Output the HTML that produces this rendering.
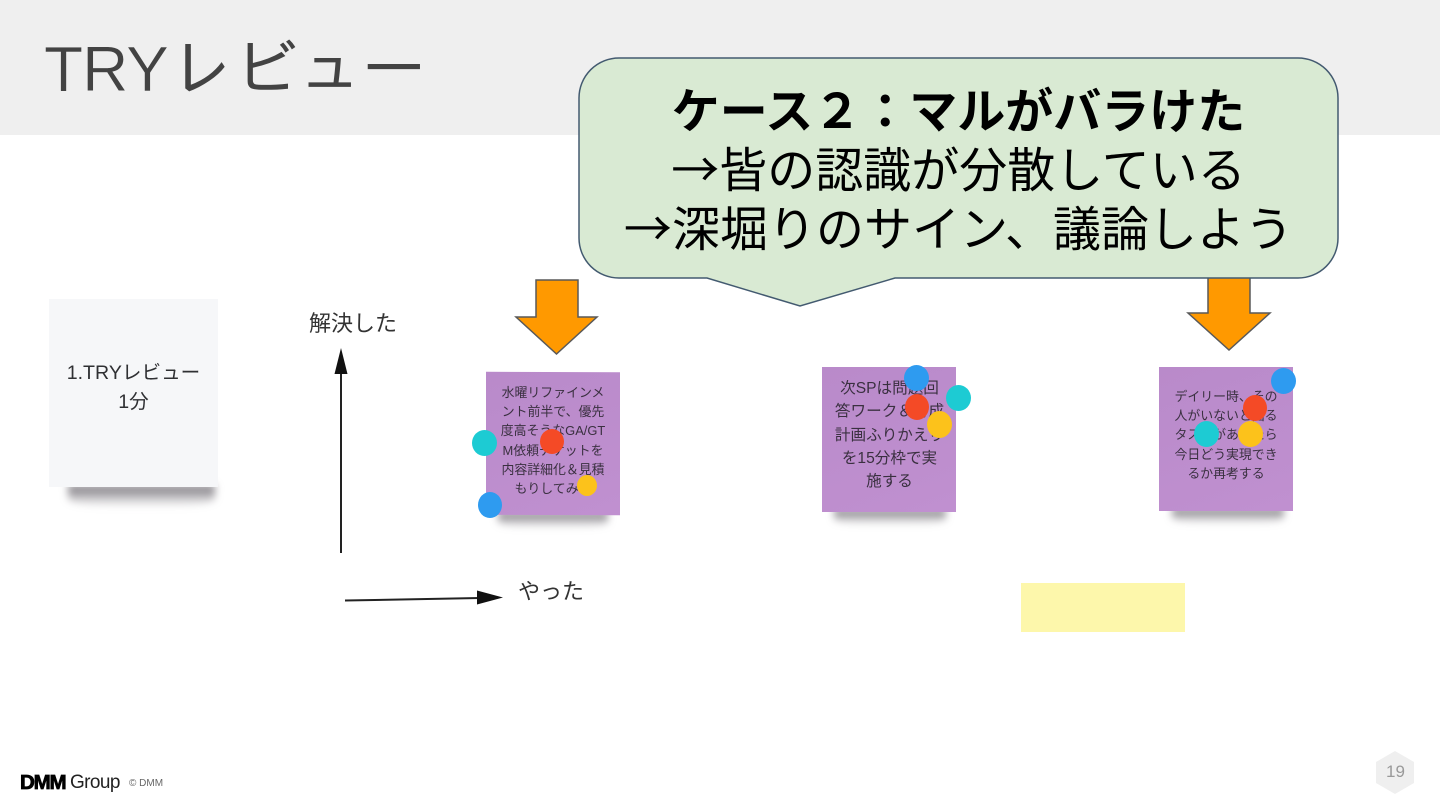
<!DOCTYPE html>
<html><head><meta charset="utf-8">
<style>
html,body{margin:0;padding:0;background:#fff}
#p{position:relative;width:1440px;height:810px;overflow:hidden;background:#fff;font-family:"Liberation Sans","Noto Sans CJK JP",sans-serif}
.a{position:absolute}
.t{position:absolute;white-space:nowrap;text-align:center}
.note{position:absolute;background:linear-gradient(160deg,#b98aca,#c090d0)}
.shadow{position:absolute;height:16px;background:linear-gradient(#77737a,#ffffff00);filter:blur(4px);border-radius:0 0 40% 40%}
.dot{position:absolute;border-radius:50%}
.nt{position:absolute;color:#3a3040;font-size:12.9px;line-height:19.2px;text-align:center;white-space:nowrap;filter:blur(.3px)}
.ar{font-family:'Noto Sans CJK JP',sans-serif;font-weight:normal}
</style></head><body><div id="p">
<div class="a" style="left:0;top:0;width:1440px;height:135px;background:#efefef"></div>
<div class="t" style="left:44px;top:27px;font-size:64px;line-height:80px;color:#434343;letter-spacing:-1px;-webkit-text-stroke:.6px #efefef;font-family:'Liberation Sans','IPAGothic',sans-serif">TRY<span style="margin-left:2px;letter-spacing:0;-webkit-text-stroke:0;font-family:'IPAGothic','Noto Sans CJK JP',sans-serif">レビュー</span></div>

<!-- white sticky -->
<div class="shadow" style="left:68px;top:485px;width:147px;height:22px"></div>
<div class="a" style="left:49px;top:299px;width:169px;height:188px;background:#f6f7f9"></div>
<div class="t" style="left:49px;top:359px;width:169px;font-size:19.6px;line-height:29px;color:#2f3033">1.TRYレビュー<br>1分</div>

<!-- axes -->
<div class="t" style="left:309px;top:309px;font-size:22px;line-height:30px;color:#333">解決した</div>
<div class="t" style="left:518px;top:577px;font-size:22px;line-height:30px;color:#333">やった</div>
<svg class="a" style="left:0;top:0" width="1440" height="810">
<line x1="341" y1="553" x2="341" y2="368" stroke="#222" stroke-width="2"/>
<polygon points="341,348 334.5,374 347.5,374" fill="#111"/>
<line x1="345" y1="600.5" x2="480" y2="598" stroke="#222" stroke-width="2"/>
<polygon points="503,597.5 477,590.5 477,604.5" fill="#111"/>
<polygon points="536,280 578,280 578,317 597,317 556.5,354 516,317 536,317" fill="#ff9900" stroke="#595959" stroke-width="1.5"/>
<polygon points="1208,276 1250,276 1250,313 1270,313 1229,350 1188,313 1208,313" fill="#ff9900" stroke="#595959" stroke-width="1.5"/>
</svg>

<!-- notes -->
<div class="shadow" style="left:498px;top:512px;width:110px"></div>
<div class="a note" style="left:486px;top:372px;width:134px;height:143px;transform:skewY(.2deg)"></div>
<div class="nt" style="left:486px;top:383px;width:134px">水曜リファインメ<br>ント前半で、優先<br>度高そうなGA/GT<br>M依頼チケットを<br>内容詳細化＆見積<br>もりしてみる</div>

<div class="shadow" style="left:834px;top:509px;width:112px"></div>
<div class="a note" style="left:822px;top:367px;width:134px;height:145px"></div>
<div class="nt" style="left:823px;top:377px;width:133px;font-size:15.6px;line-height:23.3px">次SPは問題回<br>答ワーク＆育成<br>計画ふりかえり<br>を15分枠で実<br>施する</div>

<div class="shadow" style="left:1172px;top:508px;width:112px"></div>
<div class="a note" style="left:1159px;top:367px;width:134px;height:144px"></div>
<div class="nt" style="left:1159px;top:387px;width:134px">デイリー時、その<br>人がいないと困る<br>タスクがあったら<br>今日どう実現でき<br>るか再考する</div>

<!-- dots -->
<div class="dot" style="left:472px;top:430px;width:25px;height:26px;background:#1dcbd3"></div>
<div class="dot" style="left:540px;top:429px;width:24px;height:25px;background:#f44a26"></div>
<div class="dot" style="left:577px;top:475px;width:20px;height:21px;background:#fcc21b"></div>
<div class="dot" style="left:478px;top:492px;width:24px;height:26px;background:#2e9bf0"></div>

<div class="dot" style="left:904px;top:365px;width:25px;height:26px;background:#2e9bf0"></div>
<div class="dot" style="left:946px;top:385px;width:25px;height:26px;background:#1dcbd3"></div>
<div class="dot" style="left:905px;top:394px;width:24px;height:26px;background:#f44a26"></div>
<div class="dot" style="left:927px;top:411px;width:25px;height:27px;background:#fcc21b"></div>

<div class="dot" style="left:1271px;top:368px;width:25px;height:26px;background:#2e9bf0"></div>
<div class="dot" style="left:1243px;top:395px;width:24px;height:26px;background:#f44a26"></div>
<div class="dot" style="left:1238px;top:421px;width:25px;height:26px;background:#fcc21b"></div>
<div class="dot" style="left:1194px;top:421px;width:25px;height:26px;background:#1dcbd3"></div>

<!-- yellow -->
<div class="a" style="left:1021px;top:583px;width:164px;height:49px;background:#fdf7ab"></div>

<!-- callout -->
<svg class="a" style="left:0;top:0" width="1440" height="810">
<path d="M619 58 H1298 A40 40 0 0 1 1338 98 V238 A40 40 0 0 1 1298 278 H895 L800 306 L707 278 H619 A40 40 0 0 1 579 238 V98 A40 40 0 0 1 619 58 Z" fill="#d9ead3" stroke="#435a70" stroke-width="1.5"/>
</svg>
<div class="t" style="left:579px;top:78px;width:759px;font-size:48px;line-height:59px;color:#000;font-family:'WenQuanYi Zen Hei','Noto Sans CJK JP',sans-serif"><b>ケース２：マルがバラけた</b><br><span class="ar">→</span>皆の認識が分散している<br><span class="ar">→</span>深堀りのサイン、議論しよう</div>

<!-- footer -->
<div class="t" style="left:20px;top:773px;font-size:20.5px;line-height:20px;font-weight:bold;color:#000;letter-spacing:-1.2px;-webkit-text-stroke:.8px #000">DMM</div>
<div class="t" style="left:70px;top:773px;font-size:19px;line-height:20px;color:#222;letter-spacing:-.6px">Group</div>
<div class="t" style="left:129px;top:778px;font-size:10px;line-height:12px;color:#666">© DMM</div>
<svg class="a" style="left:0;top:0" width="1440" height="810">
<polygon points="1395,751 1414,762 1414,783 1395,794 1376,783 1376,762" fill="#efefef"/>
</svg>
<div class="t" style="left:1376px;top:762px;width:39px;font-size:17px;line-height:20px;color:#999">19</div>
</div></body></html>
